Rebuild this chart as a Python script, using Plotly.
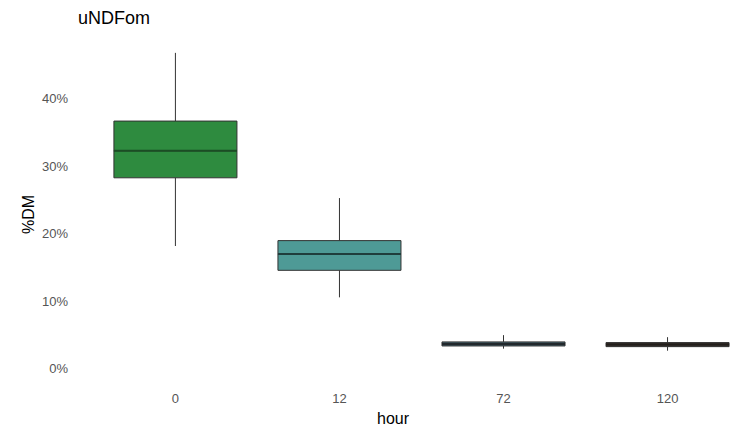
import plotly.graph_objects as go

hours = ["0", "12", "72", "120"]
q1 = [28.3, 14.6, 3.4, 3.3]
median = [32.3, 17.0, 3.7, 3.6]
q3 = [36.7, 19.0, 4.0, 3.9]
lower = [18.2, 10.6, 3.0, 2.7]
upper = [46.8, 25.3, 5.0, 4.7]
colors = ["#2E8B3F", "#4E9A96", "#42606B", "#3A332F"]
median_colors = ["#1B4D24", "#1F3D3C", "#22282C", "#221E1B"]
y_ticks = [0, 10, 20, 30, 40]

W, H = 743, 433
D = 8  # page offset compensation
L, R, T, B = 77 - D, 0, 38 - D, 58 + D

fig = go.Figure()
for i, h in enumerate(hours):
    fig.add_trace(go.Box(
        x=[i], q1=[q1[i]], median=[median[i]], q3=[q3[i]],
        lowerfence=[lower[i]], upperfence=[upper[i]],
        width=0.75, fillcolor=colors[i],
        line=dict(color="#333333", width=1),
        whiskerwidth=0, showlegend=False, name=h, hoverinfo="skip",
    ))
    fig.add_trace(go.Scatter(
        x=[i - 0.375, i + 0.375], y=[median[i], median[i]],
        mode="lines", line=dict(color=median_colors[i], width=2),
        showlegend=False, hoverinfo="skip",
    ))

pw, ph = W - L - R, H - T - B

fig.update_layout(
    width=W, height=H,
    margin=dict(l=L, r=R, t=T, b=B, autoexpand=False),
    paper_bgcolor="white", plot_bgcolor="white",
    font=dict(family="Liberation Sans, Arial, sans-serif", color="#000000"),
    title=dict(text="uNDFom", x=(78 - D) / W, xref="container", xanchor="left",
               y=1 - (18 - D) / H, yref="container", yanchor="middle",
               font=dict(size=18, color="#000")),
    boxmode="overlay",
    xaxis=dict(
        range=[-0.6, 3.46 + D / 164], tickmode="array", tickvals=list(range(len(hours))),
        ticktext=hours, showgrid=False, zeroline=False, showline=False,
        ticks="", tickfont=dict(size=13, color="#555555"),
        ticklabelstandoff=14, automargin=False,
    ),
    yaxis=dict(
        range=[-0.9, 49.0], tickmode="array", tickvals=y_ticks,
        ticktext=[f"{v}%" for v in y_ticks], showgrid=False, zeroline=False,
        showline=False, ticks="", tickfont=dict(size=13, color="#555555"),
        ticklabelstandoff=8, automargin=False,
    ),
    annotations=[
        dict(text="hour", x=(393 - D - L) / pw, y=(H - B - (418 - D)) / ph,
             xref="paper", yref="paper", showarrow=False,
             font=dict(size=16, color="#000"), xanchor="center", yanchor="middle"),
        dict(text="%DM", x=(28 - D - L) / pw, y=(H - B - (215 - D)) / ph,
             xref="paper", yref="paper", showarrow=False, textangle=-90,
             font=dict(size=16, color="#000"), xanchor="center", yanchor="middle"),
    ],
)
fig.write_html("out.html")
